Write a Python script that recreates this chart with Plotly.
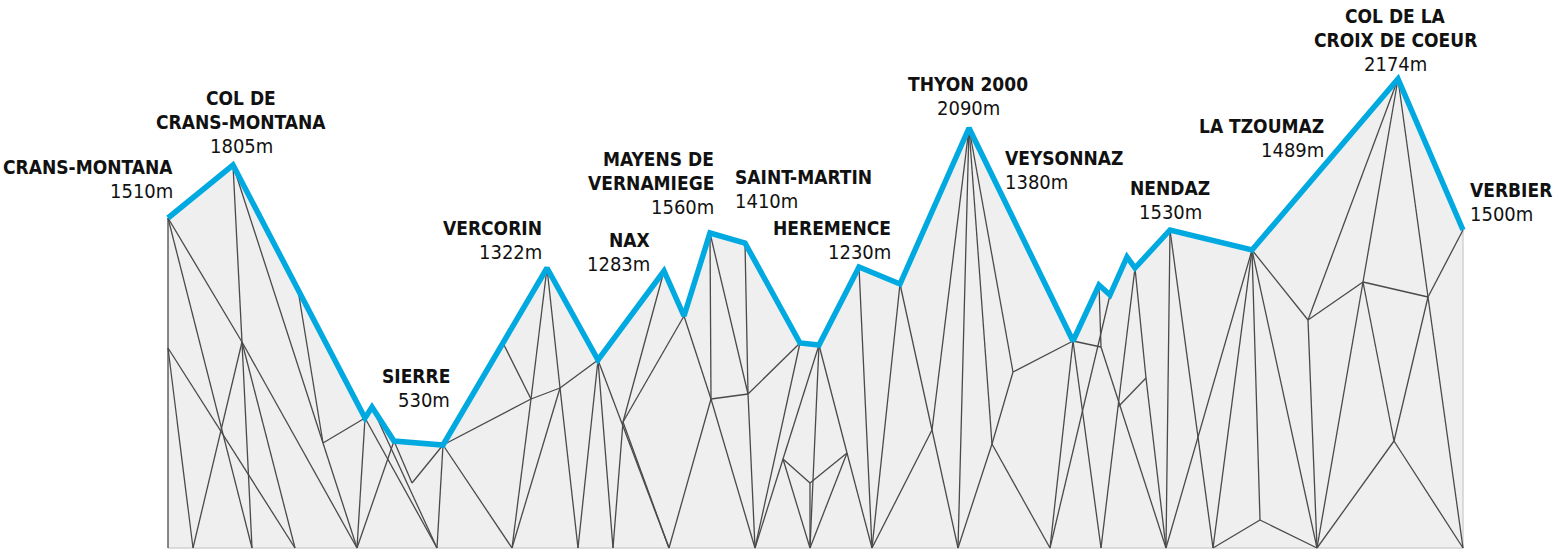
import plotly.graph_objects as go

# -----------------------------
# PROFILE (blue ridge line)
# distance along route / height on the drawing
# -----------------------------
profile_x = [168, 233, 365, 372, 394, 443, 547, 598, 664, 684, 710, 745, 800,
             819, 859, 900, 969, 1073, 1099, 1110, 1127, 1135, 1170, 1252, 1398, 1463]
profile_h = [339, 392, 139, 150, 116, 112, 289, 197, 286, 241, 324, 314, 214,
             212, 290, 273, 429, 216, 272, 262, 300, 289, 327, 307, 478, 327]
base_h = 9

# -----------------------------
# MESH NODES (inside the relief)
# -----------------------------
node_names = ["A", "B", "C", "D", "E", "F", "G", "H", "I", "J", "K", "L", "M",
              "N", "O", "R", "S", "T", "U", "V", "W", "X", "Y", "Q1", "Q2"]
node_x = [168, 242, 323, 412, 560, 531, 623, 711, 748, 783, 810, 847, 932,
          992, 1013, 1101, 1146, 1118, 1308, 1363, 1428, 1394, 1260, 298, 503]
node_h = [209, 215, 114, 74, 169, 158, 135, 158, 163, 98, 74, 104, 127,
          113, 185, 210, 179, 150, 237, 275, 260, 116, 37, 267, 214]

# points where mesh lines reach the ground
ground_names = ["b0", "b1", "b2", "b3", "b4", "b5", "b6", "b7", "b8", "b9", "b10",
                "b11", "b12", "b13", "b14", "b15", "b16", "b17", "b18", "b19"]
ground_x = [168, 193, 252, 295, 357, 437, 512, 578, 613, 669, 755,
            810, 872, 958, 1050, 1101, 1166, 1213, 1317, 1463]

mesh_edges = [
    ("p0", "b0"), ("p0", "B"), ("B", "b4"), ("p0", "b2"), ("A", "b3"), ("A", "b1"),
    ("b1", "B"), ("p1", "B"), ("B", "b2"), ("B", "b3"), ("p1", "C"), ("Q1", "C"),
    ("C", "p2"), ("C", "b4"), ("p2", "b4"), ("p3", "b5"), ("p2", "b5"), ("p4", "b4"),
    ("p4", "D"), ("D", "p5"), ("p5", "b5"),
    ("p5", "b6"), ("p5", "F"), ("F", "E"), ("E", "p7"), ("Q2", "F"), ("p6", "F"),
    ("F", "b6"), ("p6", "E"), ("E", "b7"), ("E", "b6"), ("p7", "b7"), ("p7", "b8"),
    ("p7", "b9"), ("p8", "G"), ("p9", "G"), ("G", "b8"), ("G", "b9"),
    ("p9", "H"), ("H", "b10"), ("p10", "H"), ("H", "b9"), ("H", "I"), ("p10", "I"),
    ("p11", "I"), ("I", "b10"), ("I", "p12"), ("p12", "b10"),
    ("p13", "J"), ("J", "b10"), ("p13", "b11"), ("p13", "L"), ("L", "b12"),
    ("J", "K"), ("K", "L"), ("J", "b11"), ("K", "b11"), ("L", "b11"),
    ("p14", "b12"), ("p15", "b12"), ("p15", "M"), ("M", "b13"), ("M", "b12"),
    ("p16", "b13"), ("p16", "M"), ("p16", "N"), ("p16", "O"), ("N", "b13"),
    ("N", "b14"), ("N", "O"), ("O", "p17"), ("p17", "b14"), ("p17", "R"),
    ("p17", "b15"), ("R", "p18"), ("R", "b16"), ("p19", "b14"), ("p21", "T"),
    ("T", "b15"), ("T", "S"), ("S", "p21"), ("S", "b16"), ("p22", "b16"),
    ("p22", "b17"), ("p23", "b16"), ("p23", "Y"), ("Y", "b17"), ("p23", "b17"),
    ("Y", "b18"), ("p23", "U"), ("p23", "b18"), ("U", "b18"), ("U", "p24"),
    ("U", "V"), ("V", "p24"), ("V", "W"), ("W", "p24"), ("W", "p25"), ("V", "X"),
    ("V", "b18"), ("X", "W"), ("X", "b18"), ("X", "b19"), ("W", "b19"),
]

# -----------------------------
# LABELS
# -----------------------------
stop_names = [
    ["CRANS-MONTANA"], ["COL DE", "CRANS-MONTANA"], ["SIERRE"], ["VERCORIN"],
    ["NAX"], ["MAYENS DE", "VERNAMIEGE"], ["SAINT-MARTIN"], ["HEREMENCE"],
    ["THYON 2000"], ["VEYSONNAZ"], ["NENDAZ"], ["LA TZOUMAZ"],
    ["COL DE LA", "CROIX DE COEUR"], ["VERBIER"],
]
stop_elev = ["1510m", "1805m", "530m", "1322m", "1283m", "1560m", "1410m",
             "1230m", "2090m", "1380m", "1530m", "1489m", "2174m", "1500m"]

# label placement: x, height of the elevation line, anchor
label_pos = [
    (175, 366, "right"), (241, 411, "center"), (452, 157, "right"),
    (544, 305, "right"), (652, 293, "right"), (716, 350, "right"),
    (733, 356, "left"), (893, 305, "right"), (968, 449, "center"),
    (1003, 375, "left"), (1170, 345, "center"), (1326, 407, "right"),
    (1395, 493, "center"), (1468, 343, "left"),
]

pts = {f"p{i}": (x, h) for i, (x, h) in enumerate(zip(profile_x, profile_h))}
pts.update({n: (x, h) for n, x, h in zip(node_names, node_x, node_h)})
pts.update({n: (x, base_h) for n, x in zip(ground_names, ground_x)})

mesh_x, mesh_y = [], []
for a, b in mesh_edges:
    mesh_x += [pts[a][0], pts[b][0], None]
    mesh_y += [pts[a][1], pts[b][1], None]

fig = go.Figure()

# grey relief
fig.add_trace(go.Scatter(
    x=profile_x + [profile_x[-1], profile_x[0]],
    y=profile_h + [base_h, base_h],
    fill="toself", fillcolor="#efefef",
    mode="lines", line=dict(width=0),
    hoverinfo="skip"
))

# ground line and right edge
fig.add_trace(go.Scatter(
    x=[profile_x[0], profile_x[-1], profile_x[-1]],
    y=[base_h, base_h, profile_h[-1]],
    mode="lines", line=dict(color="#d2d2d2", width=1.5),
    hoverinfo="skip"
))

# triangulated mesh
fig.add_trace(go.Scatter(
    x=mesh_x, y=mesh_y, mode="lines",
    line=dict(color="#4a4a4a", width=1.3),
    hoverinfo="skip"
))

# ridge line
fig.add_trace(go.Scatter(
    x=profile_x, y=profile_h, mode="lines",
    line=dict(color="#00a9e0", width=5.5),
    hoverinfo="skip"
))

font_family = "DejaVu Sans Condensed, Liberation Sans Narrow, sans-serif"
line_step = 24

for names, elev, (lx, ly, anchor) in zip(stop_names, stop_elev, label_pos):
    fig.add_annotation(
        x=lx, y=ly, text=elev, showarrow=False,
        xanchor=anchor, yanchor="middle",
        font=dict(family=font_family, size=20, color="#111111")
    )
    for k, name in enumerate(reversed(names)):
        fig.add_annotation(
            x=lx, y=ly + line_step * (k + 1), text=f"<b>{name}</b>",
            showarrow=False, xanchor=anchor, yanchor="middle",
            font=dict(family=font_family, size=19, color="#111111")
        )

fig.update_xaxes(range=[0, 1556], visible=False, fixedrange=True)
fig.update_yaxes(range=[0, 557], visible=False, fixedrange=True)

fig.update_layout(
    width=1556, height=557,
    showlegend=False,
    plot_bgcolor="white", paper_bgcolor="white",
    margin=dict(l=0, r=0, t=0, b=0)
)

fig.write_html("out.html", config={"displayModeBar": False},
               post_script="document.body.style.margin='0';")
